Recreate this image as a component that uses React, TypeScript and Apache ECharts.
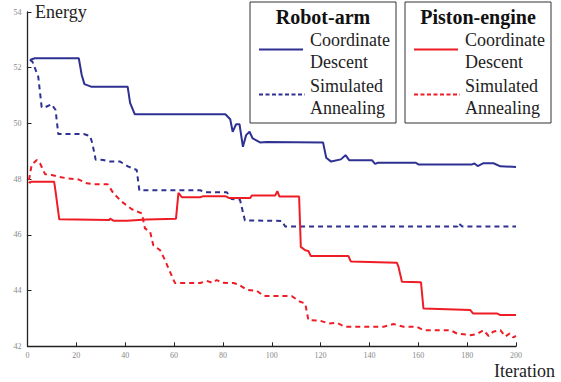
import React, { useEffect, useRef } from "react";
import * as echarts from "echarts";

// Iteration / Energy pairs
const robotArmCD: [number, number][] = [
  [1, 52.28], [3, 52.34], [21, 52.34], [22.2, 51.74], [23.3, 51.41], [26, 51.32], [41, 51.32],
  [42, 50.74], [43.9, 50.33], [62, 50.33], [81, 50.33], [83, 50.15], [84, 49.7], [85.4, 49.97],
  [86.8, 49.97], [88.2, 49.16], [89.5, 49.58], [90.9, 49.7], [92.2, 49.46], [95.2, 49.32],
  [98, 49.33], [121, 49.32], [122.3, 48.77], [124.3, 48.63], [128.3, 48.71], [130.2, 48.86],
  [131.7, 48.68], [141, 48.68], [142.3, 48.55], [143.5, 48.59], [159, 48.59], [160, 48.53],
  [182, 48.53], [183, 48.56], [184.3, 48.47], [186.5, 48.57], [190.8, 48.57], [193.6, 48.46],
  [200, 48.44],
];

const robotArmSA: [number, number][] = [
  [1, 52.28], [2, 52.22], [4.4, 51.68], [5.8, 50.58], [7.2, 50.58], [9.9, 50.69], [11.5, 50.48],
  [12.6, 49.62], [23, 49.62], [25.6, 49.55], [26.5, 49.3], [27.9, 48.7], [31, 48.69], [33.8, 48.63],
  [37.9, 48.63], [41.3, 48.45], [44.7, 48.33], [45.8, 47.6], [70.7, 47.6], [72.7, 47.53],
  [81.6, 47.53], [83.5, 47.29], [87, 47.26], [89, 46.52], [104.1, 46.5], [105.5, 46.3],
  [176, 46.3], [176.5, 46.42], [178, 46.3], [200, 46.3],
];

const pistonEngineCD: [number, number][] = [
  [0.5, 47.9], [1, 47.87], [1.5, 47.91], [10.9, 47.91], [11.5, 47.55], [13, 46.56], [33.5, 46.53],
  [33.8, 46.58], [35.2, 46.51], [40.6, 46.51], [48.8, 46.55], [60.8, 46.58], [61.8, 47.51],
  [63.2, 47.35], [70.7, 47.35], [72, 47.39], [81, 47.39], [82.6, 47.32], [91.2, 47.32],
  [91.8, 47.41], [101.4, 47.41], [102.3, 47.57], [103.1, 47.38], [111.2, 47.38], [111.9, 45.57],
  [113.7, 45.45], [115, 45.42], [116, 45.24], [131.4, 45.24], [132.4, 45.04], [151.2, 45.0],
  [151.9, 44.85], [153.3, 44.32], [161.1, 44.3], [162.1, 43.36], [181.3, 43.3], [182.4, 43.18],
  [192.2, 43.18], [193.6, 43.12], [200, 43.12],
];

const pistonEngineSA: [number, number][] = [
  [0.6, 47.97], [1.7, 48.51], [3.8, 48.69], [5.1, 48.57], [7.2, 48.18], [9.9, 48.15], [12.6, 48.09],
  [16.1, 48.03], [20.8, 47.99], [24.3, 47.85], [27.7, 47.82], [32.8, 47.82], [35.2, 47.49],
  [38.6, 47.19], [42.7, 46.92], [46.8, 46.77], [48.1, 46.23], [50.2, 46.11], [51.5, 45.63],
  [54.3, 45.45], [56.3, 45.09], [59.1, 44.52], [60.4, 44.27], [70.7, 44.27], [73.4, 44.35],
  [75.7, 44.28], [77.5, 44.38], [79.5, 44.28], [84.3, 44.27], [86.4, 44.22], [89.8, 44.03],
  [93.9, 43.99], [96.6, 43.81], [108.2, 43.8], [111.6, 43.6], [113.7, 43.54], [115, 42.94],
  [119.8, 42.92], [123.2, 42.82], [126.7, 42.84], [130.1, 42.7], [145.8, 42.7], [149.9, 42.8],
  [154, 42.7], [159.4, 42.7], [162.1, 42.58], [173.1, 42.58], [175.8, 42.46], [181.3, 42.4],
  [184, 42.44], [186.7, 42.58], [188.8, 42.37], [190.6, 42.52], [193.6, 42.58], [195.6, 42.35],
  [197.4, 42.46], [198.8, 42.32], [200, 42.37],
];

const groupTitles = ["Robot-arm", "Piston-engine"];
const methodLabels = ["Coordinate\nDescent", "Simulated\nAnnealing"];
const axisNames = { x: "Iteration", y: "Energy" };

const BLUE = "#2e3192";
const RED = "#ee1c25";
const SERIF = "Liberation Serif";

export default function App() {
  const ref = useRef<HTMLDivElement>(null);

  useEffect(() => {
    if (!ref.current) return;
    const chart = echarts.init(ref.current, null, { renderer: "svg" });

    const textStyle = (text: string, x: number, y: number, size: number, extra: any = {}) => ({
      type: "text",
      style: {
        text, x, y, fontFamily: SERIF, fontSize: size, fontWeight: "normal",
        fill: "#222", verticalAlign: "middle", ...extra,
      },
    });

    const legendBox = (x0: number, title: string, color: string) => ({
      type: "group",
      z: 100,
      children: [
        {
          type: "rect",
          shape: { x: x0, y: 2, width: 146, height: 121 },
          style: { fill: "#fff", stroke: "#333", lineWidth: 1 },
        },
        textStyle(title, x0 + 73, 17, 20, { align: "center", fontWeight: "bold", fill: "#111" }),
        {
          type: "line",
          shape: { x1: x0 + 9, y1: 49.5, x2: x0 + 53, y2: 49.5 },
          style: { stroke: color, lineWidth: 2.2 },
        },
        {
          type: "line",
          shape: { x1: x0 + 9, y1: 94.5, x2: x0 + 55, y2: 94.5 },
          style: { stroke: color, lineWidth: 2.2, lineDash: [4, 2.5] },
        },
        textStyle(methodLabels[0].split("\n")[0], x0 + 60, 40, 18),
        textStyle(methodLabels[0].split("\n")[1], x0 + 60, 62, 18),
        textStyle(methodLabels[1].split("\n")[0], x0 + 60, 86, 18),
        textStyle(methodLabels[1].split("\n")[1], x0 + 60, 108, 18),
      ],
    });

    chart.setOption({
      animation: false,
      backgroundColor: "#fff",
      grid: { left: 27.5, right: 45, top: 12, bottom: 35.7, containLabel: false },
      xAxis: {
        type: "value",
        min: 0,
        max: 200,
        interval: 20,
        axisLine: { show: true, lineStyle: { color: "#222", width: 1.3 } },
        axisTick: { show: true, inside: true, length: 4, lineStyle: { color: "#222" } },
        axisLabel: { fontSize: 8, color: "#888", fontFamily: SERIF, margin: 5 },
        splitLine: { show: false },
      },
      yAxis: {
        type: "value",
        min: 42,
        max: 54,
        interval: 2,
        axisLine: { show: true, lineStyle: { color: "#222", width: 1.3 } },
        axisTick: { show: true, inside: true, length: 4, lineStyle: { color: "#222" } },
        axisLabel: { fontSize: 8, color: "#888", fontFamily: SERIF, margin: 6 },
        splitLine: { show: false },
      },
      series: [
        {
          name: "Robot-arm Coordinate Descent", type: "line", data: robotArmCD, showSymbol: false,
          lineStyle: { color: BLUE, width: 2 },
        },
        {
          name: "Robot-arm Simulated Annealing", type: "line", data: robotArmSA, showSymbol: false,
          lineStyle: { color: BLUE, width: 2, type: [5, 4] },
        },
        {
          name: "Piston-engine Coordinate Descent", type: "line", data: pistonEngineCD, showSymbol: false,
          lineStyle: { color: RED, width: 2 },
        },
        {
          name: "Piston-engine Simulated Annealing", type: "line", data: pistonEngineSA, showSymbol: false,
          lineStyle: { color: RED, width: 2, type: [5, 4] },
        },
      ],
      graphic: [
        textStyle(axisNames.y, 35, 12, 18),
        textStyle(axisNames.x, 494, 370.5, 18),
        legendBox(250, groupTitles[0], BLUE),
        legendBox(405, groupTitles[1], RED),
      ],
    });

    return () => chart.dispose();
  }, []);

  return (
    <div
      ref={ref}
      style={{ position: "absolute", left: 0, top: 0, width: 561, height: 382 }}
    />
  );
}
